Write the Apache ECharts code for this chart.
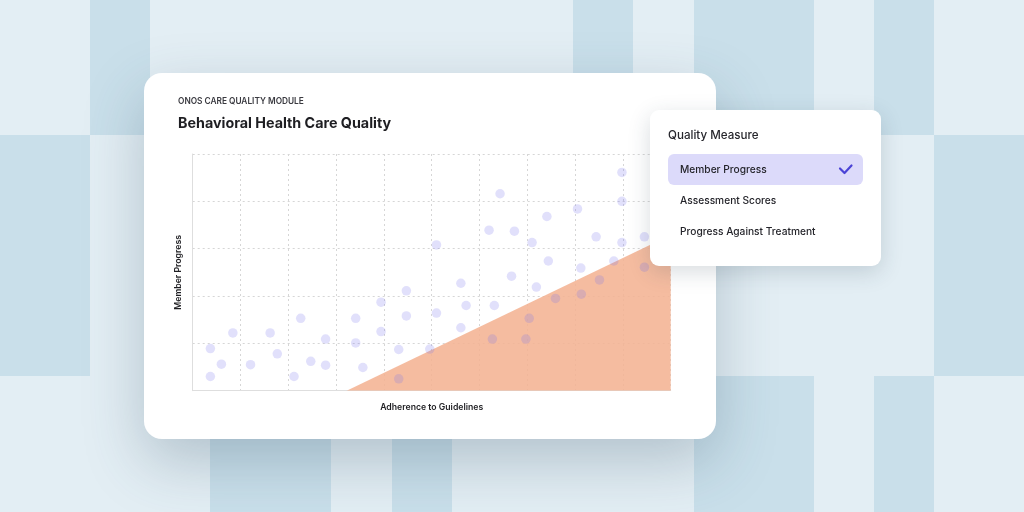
<!DOCTYPE html>
<html>
<head>
<meta charset="utf-8">
<script src="https://cdn.jsdelivr.net/npm/echarts@6/dist/echarts.min.js"></script>
<style>
html,body{margin:0;padding:0;background:#e3eef4;}
#c{width:1024px;height:512px;}
</style>
</head>
<body>
<div id="c"></div>
<script>
// Scatter data: adherence (x) and member progress (y)
const adherence = [0.37,0.60,0.37,0.84,1.21,1.62,1.77,2.12,2.26,2.47,2.78,2.78,3.41,3.41,3.56,3.94,3.94,4.31,4.31,4.47,4.47,4.96,5.10,5.10,5.61,5.72,5.61,6.27,6.31,6.20,6.43,6.67,6.73,6.97,7.04,7.10,7.19,7.41,7.44,7.59,8.05,8.12,8.13,8.44,8.51,8.81,8.98,8.98,8.98,9.45,9.45];
const progress  = [0.89,0.56,0.30,1.22,0.55,1.22,0.78,0.30,1.53,0.62,1.09,0.54,1.53,1.01,0.49,1.87,1.25,0.87,0.25,2.11,1.58,0.88,3.08,1.64,2.27,1.80,1.33,1.09,1.80,3.39,4.16,2.42,3.37,1.09,1.53,3.13,2.19,3.68,2.74,1.95,3.84,2.59,2.04,3.25,2.34,2.74,4.61,4.00,3.13,3.25,2.61];
// Threshold region boundary (below-the-line area)
const thresholdX = [3.22, 10];
const thresholdY = [0, 3.29];
// Dropdown menu items
const menuTitle = 'Quality Measure';
const menuItems = ['Member Progress', 'Assessment Scores', 'Progress Against Treatment'];

const chart = echarts.init(document.getElementById('c'), null, {renderer:'canvas'});
const FONT = 'Inter, "Noto Sans", sans-serif';

const light = '#e3eef4', dark = '#c9dfea';
const tiles = [
  [90,0,60,135],[573,0,60,135],[694,0,120,135],[874,0,60,135],
  [0,135,90,241],[934,135,90,241],
  [210,376,121,136],[392,376,60,136],[694,376,120,136],[874,376,60,136]
];
const graphics = [
  {type:'rect', z:-10, shape:{x:0,y:0,width:1024,height:512}, style:{fill:light}, silent:true}
];
tiles.forEach(t=>graphics.push({type:'rect', z:-9, shape:{x:t[0],y:t[1],width:t[2],height:t[3]}, style:{fill:dark}, silent:true}));
graphics.push({type:'rect', z:-8, shape:{x:144,y:73,width:572,height:366,r:18},
  style:{fill:'#ffffff', shadowBlur:60, shadowOffsetY:22, shadowColor:'rgba(50,80,100,0.28)'}});
graphics.push({type:'text', z:-7, x:178, y:101.5, style:{text:'ONOS CARE QUALITY MODULE', font:'600 8.3px '+FONT, fill:'#3a3a40', verticalAlign:'middle'}});
graphics.push({type:'text', z:-7, x:178, y:124, style:{text:'Behavioral Health Care Quality', font:'700 14.3px '+FONT, fill:'#1e1e22', verticalAlign:'middle'}});
// dropdown panel
graphics.push({type:'rect', z:50, shape:{x:650,y:110,width:231,height:156,r:9},
  style:{fill:'#ffffff', shadowBlur:22, shadowOffsetY:6, shadowColor:'rgba(40,60,80,0.18)'}});
graphics.push({type:'text', z:51, x:668, y:135.5, style:{text:menuTitle, font:'500 11.6px '+FONT, fill:'#26262c', verticalAlign:'middle'}});
graphics.push({type:'rect', z:51, shape:{x:668,y:154,width:195,height:31,r:6}, style:{fill:'#dcdafa'}});
const itemY = [170, 200.5, 231.5];
menuItems.forEach((m,i)=>graphics.push({type:'text', z:52, x:680, y:itemY[i], style:{text:m, font:'500 10.2px '+FONT, fill:'#24242a', verticalAlign:'middle'}}));
graphics.push({type:'polyline', z:52, shape:{points:[[840,168.5],[844.5,173],[851.5,165.5]]}, style:{stroke:'#4b43d6', lineWidth:2.2, fill:null, lineCap:'round', lineJoin:'round'}});

const scatterData = adherence.map((x,i)=>[x, progress[i]]);
const areaData = thresholdX.map((x,i)=>[x, thresholdY[i]]);

chart.setOption({
  animation:false,
  backgroundColor:'transparent',
  graphic:{elements:graphics},
  grid:{left:192.7, top:154, right:353.3, bottom:121.3, containLabel:false},
  xAxis:{type:'value', min:0, max:10, interval:1,
    name:'Adherence to Guidelines', nameLocation:'middle', nameGap:12,
    nameTextStyle:{fontFamily:FONT, fontSize:8.7, fontWeight:600, color:'#1e1e22'},
    axisLine:{show:true, lineStyle:{color:'#dedede', width:1}}, axisTick:{show:false}, axisLabel:{show:false},
    splitLine:{show:true, lineStyle:{color:'#d6d6d6', type:[2,3], width:1}}},
  yAxis:{type:'value', min:0, max:5, interval:1,
    name:'Member Progress', nameLocation:'middle', nameGap:10, nameRotate:90,
    nameTextStyle:{fontFamily:FONT, fontSize:8.7, fontWeight:600, color:'#1e1e22'},
    axisLine:{show:true, lineStyle:{color:'#dedede', width:1}}, axisTick:{show:false}, axisLabel:{show:false},
    splitLine:{show:true, lineStyle:{color:'#d6d6d6', type:[2,3], width:1}}},
  series:[
    {type:'line', data:areaData, symbol:'none', lineStyle:{width:0},
      areaStyle:{color:'#f4b393', opacity:0.88}, z:2, silent:true},
    {type:'scatter', data:scatterData, symbolSize:9.5,
      itemStyle:{color:'rgba(120,115,235,0.28)'}, z:3}
  ]
});
</script>
</body>
</html>
